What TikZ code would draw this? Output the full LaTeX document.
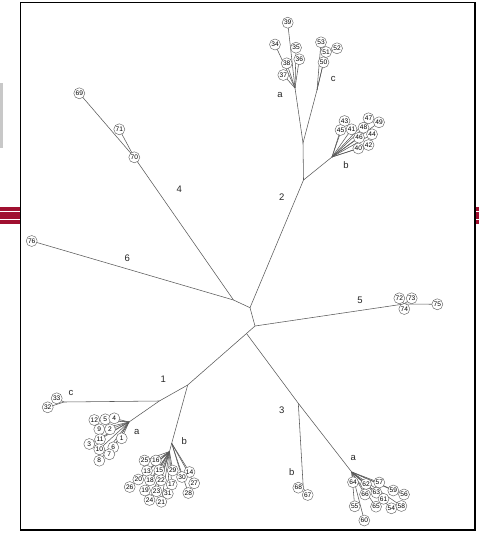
\documentclass[tikz,border=0pt]{standalone}
\usepackage{fontspec}
\setmainfont{Liberation Sans}
\definecolor{stripe}{HTML}{A01030}
\definecolor{grayblock}{HTML}{C8C8C8}
\pgfdeclarelayer{bg}
\pgfsetlayers{bg,main}
\begin{document}
\begin{tikzpicture}[x=1pt,y=-1pt,
  leaf/.style={circle,draw=black!60,fill=white,line width=0.45pt,inner sep=0pt,minimum size=11pt,font=\fontsize{6.6}{6.6}\selectfont},
  lbl/.style={font=\fontsize{9.5}{9.5}\selectfont,text=black!85,inner sep=0pt},
  br/.style={draw=black!65,line width=0.55pt},
  frameline/.style={draw=black,line width=1.4pt}]
\useasboundingbox (0,0) rectangle (479,534);
% slide decorations
\fill[grayblock] (0,83) rectangle (3.3,148);
\fill[stripe] (0,207) rectangle (19.8,224);
\fill[white] (0,211) rectangle (19.8,212.5);
\fill[white] (0,219) rectangle (19.8,220.5);
\fill[stripe] (475.8,207) rectangle (479,224);
\fill[white] (475.8,211) rectangle (479,212.5);
\fill[white] (475.8,219) rectangle (479,220.5);
\draw[frameline] (20.5,2.5) rectangle (475,530);

% internal coordinates
\coordinate (j46) at (233.5,300);
\coordinate (cu) at (250,307.7);
\coordinate (cl) at (255,326);
\coordinate (j13) at (246.5,333.5);
\coordinate (j2) at (303.5,180);
\coordinate (j2ac) at (303,143);
\coordinate (f2a) at (295,88);
\coordinate (f2c) at (317,90);
\coordinate (f2b) at (332,157);
\coordinate (j5) at (404,304);
\coordinate (j1b) at (187.7,385);
\coordinate (j1ac) at (159.3,401);
\coordinate (f1c) at (64,402);
\coordinate (f1a) at (129,422);
\coordinate (j1b2) at (171.7,443.3);
\coordinate (f1b) at (169.5,451.5);
\coordinate (j3b) at (298.3,403.3);
\coordinate (f3a) at (351.7,472);
\coordinate (f3b) at (303.3,488.3);

% leaves
\foreach \n/\x/\y in {
 39/287.7/22.7, 34/275/44.5, 35/296/47.7, 36/299.3/59.3, 38/286.7/63.3, 37/283.3/75,
 53/321/42.3, 52/337/48.3, 51/326/52, 50/323.5/62.3,
 43/344.5/121, 45/340.5/130, 41/351.5/129.3, 47/368.5/118.3, 49/379/122.3,
 48/363.5/127.7, 44/372/134.3, 46/359/137.7, 40/358.3/148.5, 42/368.5/145,
 69/79.3/93.3, 71/119.3/129.3, 70/134.3/157.3,
 76/31.7/241,
 72/399.3/298.3, 73/411.7/298.3, 74/404.3/309, 75/437.3/304.3,
 33/56.7/398.3, 32/47.7/407.3,
 12/94.3/420, 5/105.3/419.3, 4/114.3/418.3, 9/99.3/429.3, 2/110/429.3,
 11/100/439.3, 1/121.7/438.3, 3/89.3/444, 10/99.3/449.3, 6/113.3/447.3,
 7/109.3/454.3, 8/99.3/460.7,
 25/144.5/460.5, 16/155.8/460.5, 13/147/470.8, 15/159.3/470.2, 29/172.7/470.5,
 14/189.5/472, 30/182/477, 20/138.3/479.5, 18/150/480.3, 22/161/480.3,
 17/171.7/484.5, 27/194.2/483.3, 26/129.7/487, 19/145/490.5, 23/156.5/491.3,
 31/167.8/493.7, 28/188.3/493, 24/149.5/500, 21/161.3/501.8,
 68/298.3/487.7, 67/307.7/495,
 64/353/482.2, 62/366/484, 57/379.3/482.5, 66/365/494.5, 63/376.4/492.7,
 61/383.5/498.8, 59/393.3/490.5, 56/404/494.5, 55/354.7/506.3, 65/376/506.7,
 54/391.4/508.3, 58/401.4/506, 60/364.3/520.5}
  \node[leaf] (l\n) at (\x,\y) {\n};

% branch labels
\node[lbl] (t2) at (281.7,196.7) {2};
\node[lbl] (t4) at (179.3,189) {4};
\node[lbl] (t6) at (127.3,258.3) {6};
\node[lbl] (t5) at (360,300) {5};
\node[lbl] (t1) at (163.3,379.3) {1};
\node[lbl] (t3) at (281.7,410) {3};
\node[lbl] (t2a) at (280,95) {a};
\node[lbl] (t2c) at (333.3,79) {c};
\node[lbl] (t2b) at (346,165) {b};
\node[lbl] (t1c) at (71,392.7) {c};
\node[lbl] (t1a) at (136.7,431.7) {a};
\node[lbl] (t1b) at (184.3,441) {b};
\node[lbl] (t3b) at (291.7,471.7) {b};
\node[lbl] (t3a) at (353.3,458.3) {a};

\begin{pgfonlayer}{bg}
% backbone
\draw[br] (j46) -- (cu) -- (cl) -- (j13) -- (j1b) -- (j1ac);
\draw[br] (cu) -- (j2) -- (j2ac) -- (f2a);
\draw[br] (j2ac) -- (f2c);
\draw[br] (j2) -- (f2b);
\draw[br] (cl) -- (j5);
\draw[br] (j46) -- (l70.center);
\draw[br] (j46) -- (l76.center);
\draw[br] (j13) -- (j3b) -- (f3a);
\draw[br] (j3b) -- (f3b);
\draw[br] (j1ac) -- (f1c);
\draw[br] (j1ac) -- (f1a);
\draw[br] (j1b) -- (j1b2) -- (f1b);
% fans
\foreach \n in {39,34,35,36,38,37} \draw[br] (f2a) -- (l\n.center);
\foreach \n in {53,51,50} \draw[br] (f2c) -- (l\n.center);
\draw[br] (l51.center) -- (l52.center);
\foreach \n in {43,45,41,47,48,46,40,42,44,49} \draw[br] (f2b) -- (l\n.center);
\foreach \n in {69,71} \draw[br] (l70.center) -- (l\n.center);
\foreach \n in {72,73,74,75} \draw[br] (j5) -- (l\n.center);
\foreach \n in {33,32} \draw[br] (f1c) -- (l\n.center);
\foreach \n in {12,5,4,9,2,11,1,3,10,6,7,8} \draw[br] (f1a) -- (l\n.center);
\foreach \n in {25,16,13,15,29,20,18,22,17,26,19,23,31,24,21} \draw[br] (f1b) -- (l\n.center);
\foreach \n in {14,30,27,28} \draw[br] (j1b2) -- (l\n.center);
\foreach \n in {68,67} \draw[br] (f3b) -- (l\n.center);
\foreach \n in {64,62,57,66,63,61,59,56,55,65,54,58,60} \draw[br] (f3a) -- (l\n.center);
\end{pgfonlayer}
\end{tikzpicture}
\end{document}
